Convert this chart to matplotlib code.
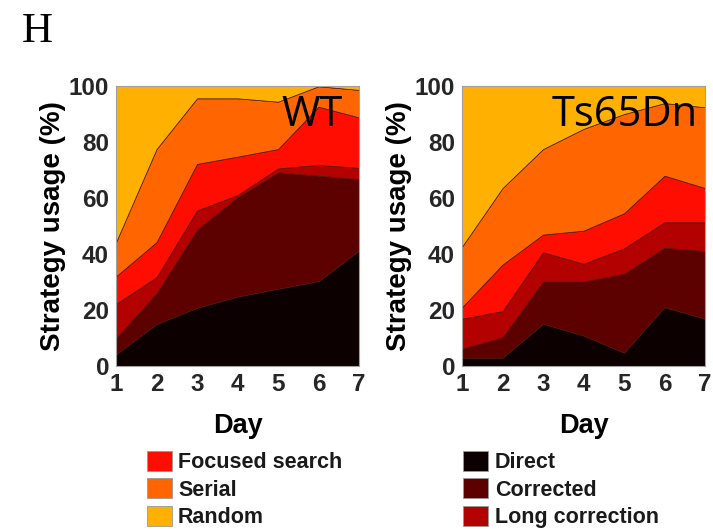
import numpy as np
import matplotlib.pyplot as plt
from matplotlib.patches import Patch

# Strategy usage per day (%), bottom layer first
days = [1, 2, 3, 4, 5, 6, 7]
strategies = ["Direct", "Corrected", "Long correction", "Focused search", "Serial", "Random"]
colors = ["#0d0000", "#5c0000", "#b30000", "#ff0d00", "#ff6500", "#ffb000"]

wt_direct = [4.2, 15.0, 20.8, 24.8, 27.6, 30.3, 41.2]
wt_corrected = [5.8, 11.0, 27.8, 35.4, 41.5, 37.6, 25.5]
wt_long = [12.2, 5.7, 6.9, 0.8, 1.4, 3.9, 4.0]
wt_focused = [9.8, 12.5, 16.6, 13.7, 6.9, 20.7, 18.0]
wt_serial = [12.2, 33.2, 23.4, 20.8, 16.9, 7.3, 9.8]
wt_random = [55.8, 22.6, 4.5, 4.5, 5.7, 0.2, 1.5]

ts_direct = [3.0, 3.0, 15.1, 10.9, 4.8, 21.0, 16.9]
ts_corrected = [3.2, 7.3, 15.1, 19.3, 28.1, 21.2, 24.1]
ts_long = [10.7, 9.3, 10.4, 6.3, 9.1, 9.1, 10.3]
ts_focused = [4.1, 16.6, 6.3, 11.8, 12.5, 16.6, 12.2]
ts_serial = [21.6, 27.3, 30.5, 36.3, 35.4, 25.9, 28.8]
ts_random = [57.4, 36.5, 22.6, 15.4, 10.1, 6.2, 7.7]

wt = [wt_direct, wt_corrected, wt_long, wt_focused, wt_serial, wt_random]
ts = [ts_direct, ts_corrected, ts_long, ts_focused, ts_serial, ts_random]

plt.rcParams['font.family'] = ['Liberation Sans', 'DejaVu Sans']

fig = plt.figure(figsize=(7.13, 5.29), dpi=100)
ax1 = fig.add_axes([0.1627, 0.308, 0.3408, 0.530])
ax2 = fig.add_axes([0.6480, 0.308, 0.3408, 0.530])

for ax, data, name, dx in [(ax1, wt, "WT", 12), (ax2, ts, "Ts65Dn", 5)]:
    polys = ax.stackplot(days, *data, colors=colors)
    for p in polys:
        p.set_edgecolor("#4a1500")
        p.set_linewidth(0.5)
    ax.set_xlim(1, 7)
    ax.set_ylim(0, 100)
    ax.set_xticks(days)
    ax.set_yticks([0, 20, 40, 60, 80, 100])
    ax.tick_params(length=0, labelsize=17.5, labelcolor="#262626", pad=5)
    for lbl in ax.get_xticklabels() + ax.get_yticklabels():
        lbl.set_fontweight("bold")
    for s in ax.spines.values():
        s.set_color("#a0a0a0")
        s.set_linewidth(0.8)
    ax.set_xlabel("Day", fontsize=19.5, fontweight="bold", labelpad=12)
    ax.set_ylabel("Strategy usage (%)", fontsize=20, fontweight="bold", labelpad=2)
    ax.annotate(name, xy=(1, 1), xycoords="axes fraction",
                xytext=(-dx, -6), textcoords="offset points", ha="right", va="top",
                fontsize=30, family=["Open Sans", "DejaVu Sans"], color="black")

fig.text(0.031, 0.94, "H", fontsize=31, family="Liberation Serif", va="center")

# two legend columns below the panels
left_items = [3, 4, 5]
right_items = [0, 1, 2]
for items, x in [(left_items, 0.206), (right_items, 0.650)]:
    handles = [Patch(facecolor=colors[i], edgecolor="#999999", linewidth=0.6) for i in items]
    labels = [strategies[i] for i in items]
    leg = fig.legend(handles, labels, loc="upper left", bbox_to_anchor=(x, 0.148),
                     frameon=False, handlelength=1.15, handleheight=1.05,
                     handletextpad=0.3, labelspacing=0.24, borderpad=0, borderaxespad=0,
                     prop={"weight": "bold", "size": 15.5})
    for t in leg.get_texts():
        t.set_color("#1a1a1a")

fig.savefig("out.png", dpi=100)
